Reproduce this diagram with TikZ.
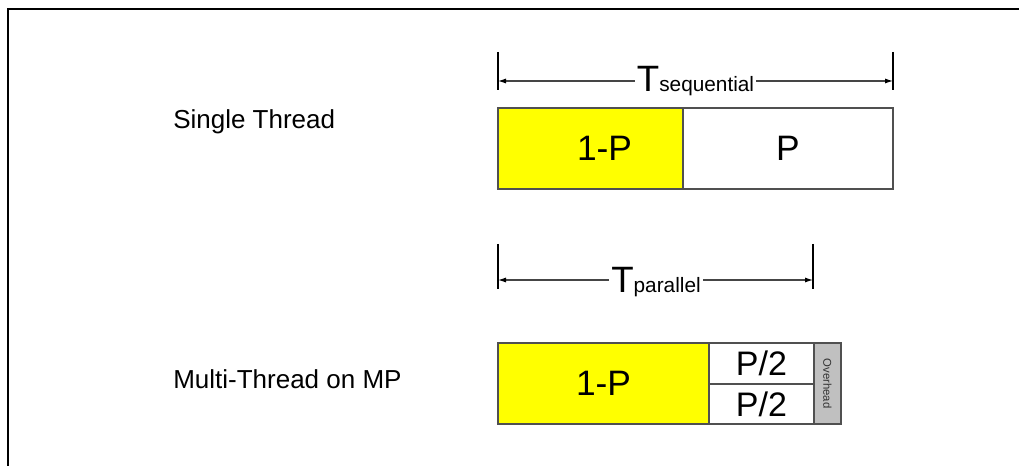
\documentclass[tikz,border=0pt]{standalone}
\usepackage{fontspec}
\setmainfont{Liberation Sans}
\usepackage{xcolor}
\usetikzlibrary{arrows.meta,positioning}

\definecolor{boxgray}{HTML}{505050}
\definecolor{linegray}{HTML}{454545}
\definecolor{ovhgray}{HTML}{C0C0C0}
\definecolor{baryellow}{HTML}{FFFF00}

\newcommand{\tsub}[1]{{\fontsize{15.6}{16}\selectfont #1}}

\begin{document}
\begin{tikzpicture}[
    x=0.75pt, y=-0.75pt,
    bar style/.style={draw=boxgray, line width=1.1pt, inner sep=0pt, outer sep=0pt,
        anchor=north west, minimum height=81*0.75pt, font=\fontsize{26.5}{27}\selectfont},
    row style/.style={anchor=base west, inner sep=0pt, font=\fontsize{19.5}{20}\selectfont},
    dim style/.style={anchor=base, inner xsep=1.5pt, inner ysep=0pt, font=\fontsize{27.5}{28}\selectfont},
    dim line/.style={draw=linegray, line width=0.8pt, -{Latex[black,length=6pt,width=3.8pt]}},
    tick style/.style={line width=1.2pt}
]

% SAME BOUNDING BOX
\path[use as bounding box] (0,0) rectangle (1019,466);

% FRAME
\draw[line width=2.2pt] (8,466) -- (8,9) -- (1019,9);

% ROW LABELS
\node[row style] (single) at (173,129) {Single Thread};
\node[row style] (multi) at (173,388) {Multi-Thread on MP};

% SINGLE THREAD BAR
\node[bar style, fill=baryellow, minimum width=185*0.75pt] (seqserial) at (498,108) {\hspace*{21pt}1-P};
\node[bar style, minimum width=210*0.75pt] (seqpar) at (seqserial.north east) {P};

% MULTI THREAD BAR
\node[bar style, fill=baryellow, minimum width=211*0.75pt] (parserial) at (498,343) {1-P};
\node[bar style, minimum width=105*0.75pt, minimum height=41*0.75pt, font=\fontsize{25.5}{26}\selectfont] (halfA) at (parserial.north east) {P/2};
\node[bar style, minimum width=105*0.75pt, minimum height=40*0.75pt, font=\fontsize{25.5}{26}\selectfont] (halfB) at (halfA.south west) {P/2};
\node[bar style, fill=ovhgray, minimum width=27*0.75pt, font=\fontsize{8.5}{9}\selectfont, text=black!80] (overhead) at (halfA.north east) {\rotatebox{-90}{Overhead}};

% T SEQUENTIAL
\coordinate (seqL) at (498,81);
\coordinate (seqR) at (893,81);
\draw[tick style] (498,52) -- (498,90);
\draw[tick style] (893,52) -- (893,90);
\node[dim style] (tseq) at (695.5,92) {T\tsub{sequential}};
\draw[dim line] (tseq.west |- seqL) -- (seqL);
\draw[dim line] (tseq.east |- seqR) -- (seqR);

% T PARALLEL
\coordinate (parL) at (498,280);
\coordinate (parR) at (813,280);
\draw[tick style] (498,244) -- (498,289);
\draw[tick style] (813,244) -- (813,289);
\node[dim style] (tpar) at (656,292) {T\tsub{parallel}};
\draw[dim line] (tpar.west |- parL) -- (parL);
\draw[dim line] (tpar.east |- parR) -- (parR);

\end{tikzpicture}
\end{document}
